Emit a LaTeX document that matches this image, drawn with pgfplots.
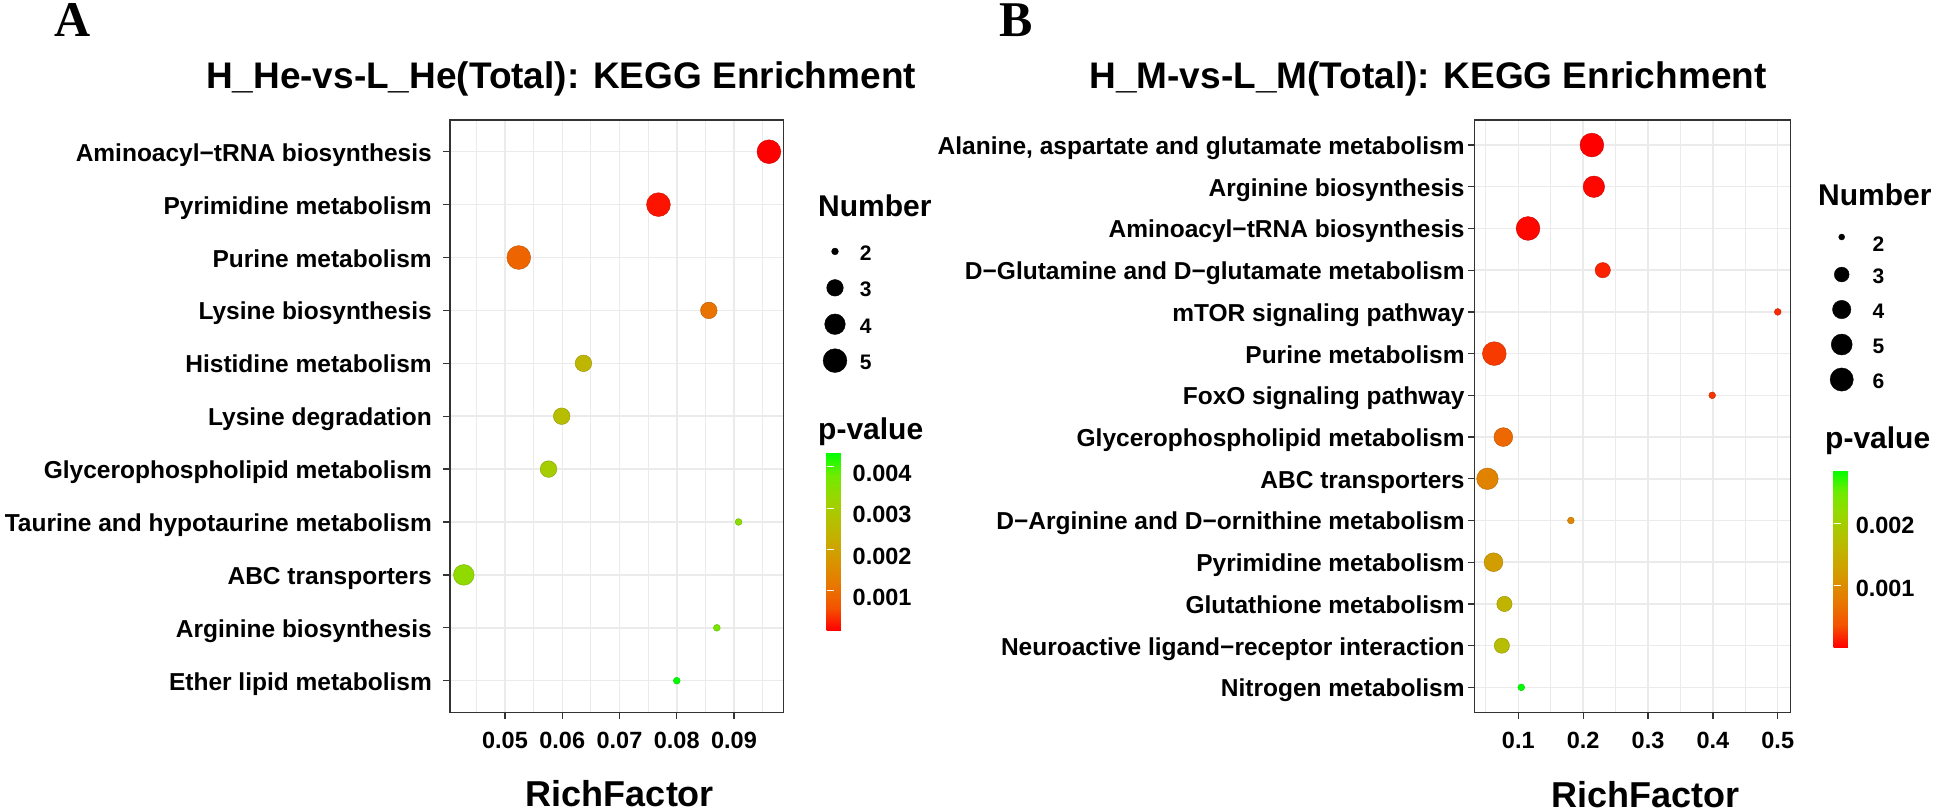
\documentclass[border=0pt]{standalone}
\usepackage{fontspec}
\setmainfont{Liberation Sans}
\newfontfamily\serifbf{Liberation Serif}[UprightFont=* Bold]
\usepackage{pgfplots}
\usepackage{pgfplotstable}
\pgfplotsset{compat=1.18}
\definecolor{c33}{HTML}{333333}
\definecolor{cEB}{HTML}{EBEBEB}
\pgfplotsset{colormap={ggrg}{rgb255=(255,0,0) rgb255=(244,83,0) rgb255=(232,118,0) rgb255=(218,146,0) rgb255=(200,171,0) rgb255=(179,194,0) rgb255=(152,215,0) rgb255=(112,235,0) rgb255=(0,255,0)}}

% x = RichFactor, y = row (top = largest), n = Number, p = p-value
\pgfplotstableread{
x y n p
0.0961 11 5 0.00005
0.0768 10 5 0.00018
0.0524 9 5 0.00086
0.0856 8 3 0.00108
0.0637 7 3 0.00245
0.0599 6 3 0.00262
0.0576 5 3 0.00300
0.0908 4 2 0.00343
0.0428 3 4 0.00335
0.0870 2 2 0.00369
0.0800 1 2 0.00433
}\leftdata
\pgfplotstableread{
x y n p
0.2134 14 6 0.000005
0.2165 13 5 0.000034
0.1150 12 6 0.000034
0.2302 11 3 0.00015
0.5000 10 2 0.00018
0.0630 9 6 0.00026
0.3990 8 2 0.00023
0.0769 7 4 0.00058
0.0524 6 5 0.00089
0.1810 5 2 0.00092
0.0617 4 4 0.00123
0.0786 3 3 0.00158
0.0746 2 3 0.00172
0.1046 1 2 0.00286
}\rightdata

\pgfplotsset{
  kegg/.style={
    scale only axis,
    colormap name=ggrg,
    scaled x ticks=false, scaled y ticks=false,
    axis line style={draw=c33, line width=1.1pt},
    tick style={draw=c33, line width=1.3pt},
    tick align=outside,
    major tick length=6.5pt,
    minor tick length=0pt,
    xtick pos=bottom, ytick pos=left,
    xmajorgrids, ymajorgrids, xminorgrids,
    major grid style={draw=cEB, line width=1.5pt},
    minor grid style={draw=cEB, line width=0.9pt},
    ymin=0.4,
    xticklabel style={font=\fontsize{23.5}{23.5}\selectfont\bfseries, anchor=base, inner sep=0pt, yshift=-29.5pt},
    yticklabel style={font=\fontsize{24.5}{24.5}\selectfont\bfseries, anchor=east, inner sep=0pt, text height=19pt, text depth=0pt},
    xlabel={RichFactor},
    xlabel style={font=\fontsize{36}{36}\selectfont\bfseries, anchor=center, inner sep=0pt},
    legend cell align=left,
    legend style={draw=none, fill=none, inner sep=0pt, outer sep=0pt, row sep=0pt, column sep=0pt, anchor=north west,
      nodes={inner sep=0pt, outer sep=0pt, text height=15pt, text depth=0pt, font=\fontsize{21}{21}\selectfont\bfseries}},
    colorbar,
  },
  cbar/.style={
    scale only axis,
    scaled y ticks=false,
    axis line style={draw=none},
    ytick pos=both, yticklabel pos=right,
    tick align=inside, major tick length=7pt,
    tick style={draw=white, line width=1pt},
    yticklabel style={font=\fontsize{23.5}{23.5}\selectfont\bfseries, anchor=west, inner sep=0pt},
  },
}

\begin{document}
\begin{tikzpicture}
\path[use as bounding box] (0pt,0pt) rectangle (1944pt,-810pt);

% ---------------- Panel A ----------------
\begin{axis}[kegg,
  at={(450pt,-712.4pt)}, anchor=south west,
  width=333.3pt, height=592.4pt,
  xmin=0.04039, xmax=0.09861, ymax=11.6,
  xtick={0.05,0.06,0.07,0.08,0.09}, xticklabels={0.05,0.06,0.07,0.08,0.09},
  minor xtick={0.045,0.055,0.065,0.075,0.085,0.095},
  ytick={1,2,3,4,5,6,7,8,9,10,11},
  yticklabels={Ether lipid metabolism, Arginine biosynthesis, ABC transporters, Taurine and hypotaurine metabolism, Glycerophospholipid metabolism, Lysine degradation, Histidine metabolism, Lysine biosynthesis, Purine metabolism, Pyrimidine metabolism, Aminoacyl−tRNA biosynthesis},
  yticklabel style={xshift=-11.5pt},
  xlabel style={at={(axis description cs:0.51,-0.1377)}},
  point meta min=0.00005, point meta max=0.00433,
  legend style={at={(1.1161,0.8190)}},
  colorbar style={cbar, at={(parent axis.south east)}, anchor=south west, xshift=34.7pt, yshift=82.4pt,
    width=35pt, height=177pt,
    ytick={0.001,0.002,0.003,0.004}, yticklabels={0.001,0.002,0.003,0.004},
    yticklabel shift=-9pt,
    yticklabel style={yshift=-6.6pt}},
]
\addplot[scatter, only marks, mark=*, scatter src=explicit, forget plot,
  visualization depends on={\thisrow{n} \as \nn},
  scatter/@pre marker code/.append style={/tikz/mark size={1.7+1.7*(1+5*sqrt((\nn-2)/3))}}]
  table[x=x, y=y, meta=p] {\leftdata};
\addlegendimage{legend image code/.code={\path[draw=none,fill=none] (-13pt,-10.7pt) rectangle (25pt,25.7pt); \fill[black,overlay] (0pt,1.5pt) circle (3.4pt);}}
\addlegendentry{2}
\addlegendimage{legend image code/.code={\path[draw=none,fill=none] (-13pt,-10.7pt) rectangle (25pt,25.7pt); \fill[black,overlay] (0pt,1.5pt) circle (8.3pt);}}
\addlegendentry{3}
\addlegendimage{legend image code/.code={\path[draw=none,fill=none] (-13pt,-10.7pt) rectangle (25pt,25.7pt); \fill[black,overlay] (0pt,1.5pt) circle (10.3pt);}}
\addlegendentry{4}
\addlegendimage{legend image code/.code={\path[draw=none,fill=none] (-13pt,-10.7pt) rectangle (25pt,25.7pt); \fill[black,overlay] (0pt,1.5pt) circle (11.9pt);}}
\addlegendentry{5}
\end{axis}

% ---------------- Panel B ----------------
\begin{axis}[kegg,
  at={(1474.3pt,-712.4pt)}, anchor=south west,
  width=316.4pt, height=592.4pt,
  xmin=0.03215, xmax=0.52, ymax=14.6,
  xtick={0.1,0.2,0.3,0.4,0.5}, xticklabels={0.1,0.2,0.3,0.4,0.5},
  minor xtick={0.05,0.15,0.25,0.35,0.45},
  ytick={1,2,3,4,5,6,7,8,9,10,11,12,13,14},
  yticklabels={Nitrogen metabolism, Neuroactive ligand−receptor interaction, Glutathione metabolism, Pyrimidine metabolism, D−Arginine and D−ornithine metabolism, ABC transporters, Glycerophospholipid metabolism, FoxO signaling pathway, Purine metabolism, mTOR signaling pathway, D−Glutamine and D−glutamate metabolism, Aminoacyl−tRNA biosynthesis, Arginine biosynthesis, {Alanine, aspartate and glutamate metabolism}},
  yticklabel style={xshift=-3pt},
  xlabel style={at={(axis description cs:0.5417,-0.1394)}},
  point meta min=0.000005, point meta max=0.00286,
  legend style={at={(1.1201,0.8180)}},
  colorbar style={cbar, at={(parent axis.south east)}, anchor=south west, xshift=34.3pt, yshift=65.1pt,
    width=34pt, height=177.3pt,
    ytick={0.001,0.002}, yticklabels={0.001,0.002},
    yticklabel shift=-12pt,
    yticklabel style={yshift=-2.5pt}},
]
\addplot[scatter, only marks, mark=*, scatter src=explicit, forget plot,
  visualization depends on={\thisrow{n} \as \nn},
  scatter/@pre marker code/.append style={/tikz/mark size={1.7+1.7*(1+5*sqrt((\nn-2)/4))}}]
  table[x=x, y=y, meta=p] {\rightdata};
\addlegendimage{legend image code/.code={\path[draw=none,fill=none] (-13pt,-0.7pt) rectangle (31pt,15.7pt); \fill[black,overlay] (0pt,6.5pt) circle (3.0pt);}}
\addlegendentry{2}
\addlegendimage{legend image code/.code={\path[draw=none,fill=none] (-13pt,-10pt) rectangle (31pt,25pt); \fill[black,overlay] (0pt,1.5pt) circle (7.4pt);}}
\addlegendentry{3}
\addlegendimage{legend image code/.code={\path[draw=none,fill=none] (-13pt,-10pt) rectangle (31pt,25pt); \fill[black,overlay] (0pt,1.5pt) circle (9.2pt);}}
\addlegendentry{4}
\addlegendimage{legend image code/.code={\path[draw=none,fill=none] (-13pt,-10pt) rectangle (31pt,25pt); \fill[black,overlay] (0pt,1.5pt) circle (10.5pt);}}
\addlegendentry{5}
\addlegendimage{legend image code/.code={\path[draw=none,fill=none] (-13pt,-10pt) rectangle (31pt,25pt); \fill[black,overlay] (0pt,1.5pt) circle (11.6pt);}}
\addlegendentry{6}
\end{axis}

% ---------------- Titles and legend titles ----------------
\node[font=\fontsize{50}{50}\selectfont\serifbf, inner sep=0pt] at (73pt,-20pt) {A};
\node[font=\fontsize{50}{50}\selectfont\serifbf, inner sep=0pt] at (1016.5pt,-20pt) {B};
\node[font=\fontsize{37}{37}\selectfont\bfseries, inner sep=0pt] at (561pt,-79pt) {H\_He-vs-L\_He(Total): KEGG Enrichment};
\node[font=\fontsize{37}{37}\selectfont\bfseries, inner sep=0pt] at (1428pt,-79pt) {H\_M-vs-L\_M(Total): KEGG Enrichment};
\node[font=\fontsize{30}{30}\selectfont\bfseries, inner sep=0pt, anchor=west] at (818pt,-205.5pt) {Number};
\node[font=\fontsize{30}{30}\selectfont\bfseries, inner sep=0pt, anchor=west] at (818pt,-431.5pt) {p-value};
\node[font=\fontsize{30}{30}\selectfont\bfseries, inner sep=0pt, anchor=west] at (1818pt,-195pt) {Number};
\node[font=\fontsize{30}{30}\selectfont\bfseries, inner sep=0pt, anchor=west] at (1825pt,-440.5pt) {p-value};
\end{tikzpicture}
\end{document}
